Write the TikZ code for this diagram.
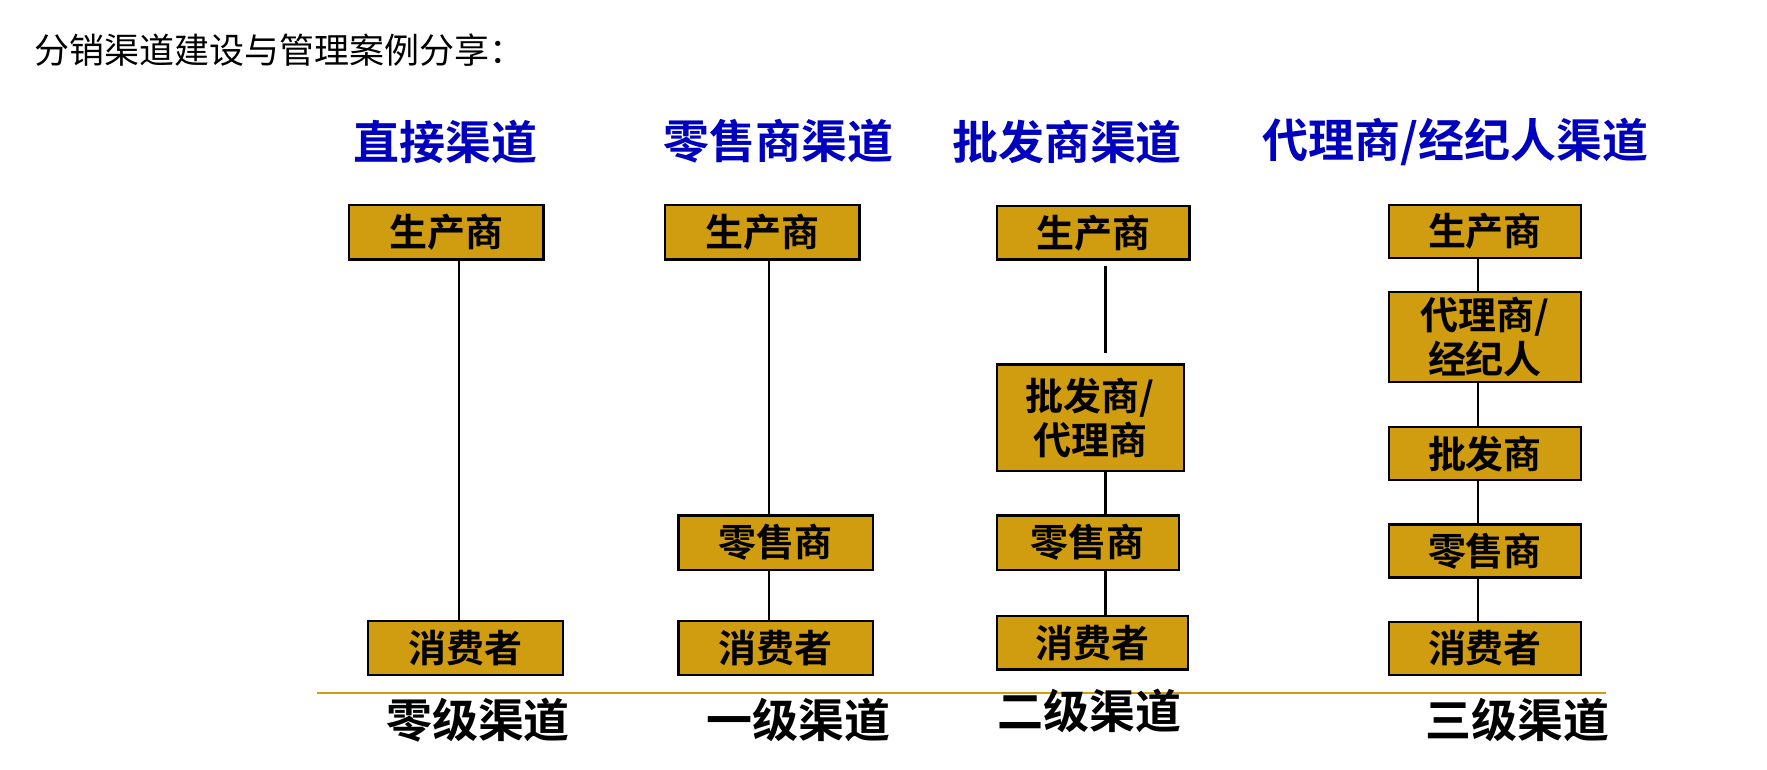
\documentclass[tikz,border=0pt]{standalone}
\usepackage{fontspec}
\setmainfont{Noto Sans CJK SC}
\newfontfamily\cjkb{Noto Sans CJK SC Bold}
\begin{document}
\begin{tikzpicture}[x=0.5665pt,y=-0.5665pt,
  box/.style={draw=black,line width=1.2pt,fill=gold,inner sep=0pt,font=\cjkb\fontsize{19}{22}\selectfont,align=center},
  ttl/.style={font=\cjkb\fontsize{23}{26}\selectfont,text=blue!75!black},
  lvl/.style={font=\cjkb\fontsize{23}{26}\selectfont},
  ln/.style={line width=1.1pt}]
\definecolor{gold}{RGB}{208,156,16}
\useasboundingbox (0,0) rectangle (1560,679);
\node[anchor=west,font=\fontsize{17.5}{20}\selectfont] (hd) at (24,44) {分销渠道建设与管理案例分享：};
\node[ttl] (t1) at (393,125) {直接渠道};
\node[ttl] (t2) at (687,125) {零售商渠道};
\node[ttl] (t3) at (942,125) {批发商渠道};
\node[ttl] (t4) at (1285,125) {代理商/经纪人渠道};
% column 1
\node[box,minimum width=97.4pt,minimum height=27.2pt] (p1) at (394,205) {生产商};
\node[box,minimum width=97.4pt,minimum height=27.2pt] (c1) at (411,572) {消费者};
\coordinate (l1) at (405,0);
\draw[ln] (p1.south -| l1) -- (c1.north -| l1);
% column 2
\node[box,minimum width=97.4pt,minimum height=27.2pt] (p2) at (673,205) {生产商};
\node[box,minimum width=97.4pt,minimum height=27.2pt] (r2) at (685,479) {零售商};
\node[box,minimum width=97.4pt,minimum height=27.2pt] (c2) at (685,572) {消费者};
\coordinate (l2) at (679,0);
\draw[ln] (p2.south -| l2) -- (r2.north -| l2);
\draw[ln] (r2.south -| l2) -- (c2.north -| l2);
% column 3
\node[box,minimum width=96.3pt,minimum height=26.6pt] (p3) at (965,205.5) {生产商};
\node[box,minimum width=93.5pt,minimum height=53.3pt] (w3) at (962.5,369) {批发商/\\代理商};
\node[box,minimum width=91.2pt,minimum height=27.2pt] (r3) at (960.5,479) {零售商};
\node[box,minimum width=95.7pt,minimum height=26.6pt] (c3) at (964.5,567.5) {消费者};
\coordinate (l3) at (976,0);
\draw[ln,shorten <=2.5pt,shorten >=5pt] (p3.south -| l3) -- (w3.north -| l3);
\draw[ln] (w3.south -| l3) -- (r3.north -| l3);
\draw[ln] (r3.south -| l3) -- (c3.north -| l3);
% column 4
\node[box,minimum width=96.3pt,minimum height=26.6pt] (p4) at (1311,204.5) {生产商};
\node[box,minimum width=96.3pt,minimum height=44.8pt] (a4) at (1311,297.5) {代理商/\\经纪人};
\node[box,minimum width=96.3pt,minimum height=26.6pt] (w4) at (1311,400.5) {批发商};
\node[box,minimum width=96.3pt,minimum height=26.6pt] (r4) at (1311,486.5) {零售商};
\node[box,minimum width=96.3pt,minimum height=26.6pt] (c4) at (1311,572.5) {消费者};
\coordinate (l4) at (1305,0);
\draw[ln] (p4.south -| l4) -- (a4.north -| l4);
\draw[ln] (a4.south -| l4) -- (w4.north -| l4);
\draw[ln] (w4.south -| l4) -- (r4.north -| l4);
\draw[ln] (r4.south -| l4) -- (c4.north -| l4);
% base line
\coordinate (bl) at (280,612);
\coordinate (br) at (1418,612);
\draw[gold,line width=1pt] (bl) -- (br);
\node[lvl] (v0) at (422,636) {零级渠道};
\node[lvl] (v1) at (705,636) {一级渠道};
\node[lvl] (v2) at (962,628) {二级渠道};
\node[lvl] (v3) at (1340,636) {三级渠道};
\end{tikzpicture}
\end{document}
